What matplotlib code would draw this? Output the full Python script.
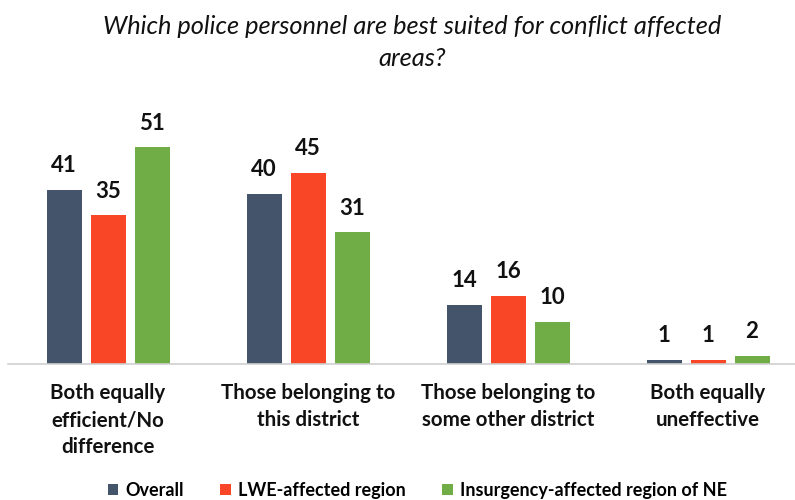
import matplotlib
matplotlib.use("Agg")
import matplotlib.pyplot as plt
import numpy as np

categories = ["Both equally\nefficient/No\ndifference", "Those belonging to\nthis district",
              "Those belonging to\nsome other district", "Both equally\nuneffective"]
series = ["Overall", "LWE-affected region", "Insurgency-affected region of NE"]
overall = [41, 40, 14, 1]
lwe = [35, 45, 16, 1]
ne = [51, 31, 10, 2]
colors = ["#44546A", "#F84627", "#70AD47"]
title = "Which police personnel are best suited for conflict affected\nareas?"

plt.rcParams['font.family'] = ['Lato', 'DejaVu Sans']
fig = plt.figure(figsize=(7.95, 5.0), dpi=100)
ax = fig.add_axes([8/795, 1-364/500, 1-8/795, 255/500])
x = np.arange(len(categories))
w = 0.175
off = 0.22
for i, (vals, c, name) in enumerate(zip([overall, lwe, ne], colors, series)):
    bars = ax.bar(x + (i-1)*off, vals, width=w, color=c, label=name)
    for b, v in zip(bars, vals):
        ax.text(b.get_x()+b.get_width()/2, v + 3.2, str(v), ha='center', va='bottom',
                fontsize=16, fontweight='bold', color='#111111')
ax.set_xlim(-0.5, 3.435)
ax.set_ylim(0, 60)
for s in ['top', 'right', 'left']:
    ax.spines[s].set_visible(False)
ax.spines['bottom'].set_color('#D0D0D0')
ax.spines['bottom'].set_linewidth(1.2)
ax.set_yticks([])
ax.set_xticks(x)
ax.set_xticklabels(categories, fontsize=14.8, fontweight='bold', color='#111111', linespacing=1.42)
ax.tick_params(axis='x', length=0, pad=14)
fig.text(0.518, 0.97, title, ha='center', va='top', fontsize=18.3, style='italic',
         color='#111111', linespacing=1.5)
fig.legend(loc='lower center', bbox_to_anchor=(0.525, -0.03), ncol=3, frameon=False,
           handlelength=0.6, handleheight=0.6, handletextpad=0.4,
           columnspacing=2.0, prop={'weight': 'bold', 'size': 13})
fig.savefig("out.png", dpi=100)
